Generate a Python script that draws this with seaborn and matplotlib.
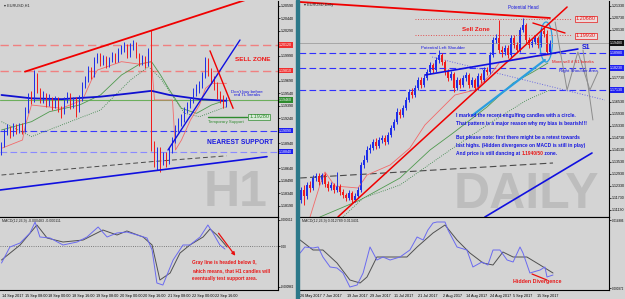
import numpy as np
import matplotlib.pyplot as plt
import seaborn as sns
from matplotlib.patches import Ellipse, Rectangle

BG = "#d4d4d4"
sns.set_theme(style="white", rc={"axes.facecolor": BG, "figure.facecolor": BG})
plt.rcParams["font.family"] = ["Liberation Sans", "DejaVu Sans"]

# ---------------- H1 panel data (EURUSD, 14-22 Sep 2017) ----------------
h1_first_open = 1.1885
h1_close = [1.1892, 1.1908, 1.1912, 1.1906, 1.1914, 1.1909, 1.1915, 1.1910, 1.1934, 1.1950,
            1.1946, 1.1976, 1.1958, 1.1946, 1.1952, 1.1942, 1.1948, 1.1939, 1.1946, 1.1936,
            1.1932, 1.1946, 1.1951, 1.1940, 1.1946, 1.1934, 1.1948, 1.1964, 1.1970, 1.1982,
            1.1976, 1.1994, 1.1999, 1.1992, 1.1996, 1.1989, 1.1994, 1.2000, 1.1994, 1.2004,
            1.2008, 1.2010, 1.2000, 1.2011, 1.2013, 1.2000, 1.1992, 1.1996, 1.1989, 1.2004,
            1.1892, 1.1876, 1.1886, 1.1874, 1.1880, 1.1872, 1.1886, 1.1898, 1.1912, 1.1920,
            1.1924, 1.1934, 1.1940, 1.1946, 1.1956, 1.1960, 1.1964, 1.1976, 1.1994, 1.1980,
            1.1970, 1.1964, 1.1952, 1.1948, 1.1941, 1.1946]
h1_high = [1.1896, 1.1911, 1.1917, 1.1915, 1.1918, 1.1917, 1.1919, 1.1918, 1.1938, 1.1955,
           1.1957, 1.1982, 1.1979, 1.1961, 1.1957, 1.1955, 1.1953, 1.1950, 1.1951, 1.1949,
           1.1939, 1.1950, 1.1956, 1.1954, 1.1950, 1.1949, 1.1952, 1.1968, 1.1975, 1.1987,
           1.1986, 1.1998, 1.2003, 1.2002, 1.2000, 1.1999, 1.1998, 1.2004, 1.2003, 1.2008,
           1.2012, 1.2016, 1.2013, 1.2015, 1.2018, 1.2016, 1.2003, 1.2000, 1.1999, 1.2008,
           1.2030, 1.1897, 1.1890, 1.1889, 1.1884, 1.1884, 1.1890, 1.1902, 1.1916, 1.1924,
           1.1929, 1.1938, 1.1944, 1.1950, 1.1960, 1.1965, 1.1969, 1.1980, 1.1998, 1.1997,
           1.1984, 1.1975, 1.1968, 1.1957, 1.1952, 1.1950]
h1_low = [1.1880, 1.1889, 1.1904, 1.1901, 1.1903, 1.1905, 1.1906, 1.1905, 1.1908, 1.1930,
          1.1941, 1.1944, 1.1954, 1.1942, 1.1943, 1.1938, 1.1939, 1.1934, 1.1936, 1.1931,
          1.1924, 1.1929, 1.1943, 1.1935, 1.1937, 1.1926, 1.1931, 1.1945, 1.1960, 1.1967,
          1.1971, 1.1973, 1.1990, 1.1987, 1.1988, 1.1985, 1.1986, 1.1991, 1.1990, 1.1992,
          1.2001, 1.2004, 1.1996, 1.1998, 1.2006, 1.1996, 1.1987, 1.1988, 1.1985, 1.1987,
          1.1885, 1.1866, 1.1862, 1.1860, 1.1868, 1.1866, 1.1869, 1.1882, 1.1895, 1.1908,
          1.1915, 1.1920, 1.1930, 1.1936, 1.1942, 1.1951, 1.1955, 1.1960, 1.1972, 1.1975,
          1.1965, 1.1958, 1.1947, 1.1943, 1.1937, 1.1938]

# indicator lines on H1 (bar index, price)
h1_ma200_bar = [0, 10, 20, 33, 43, 50, 56, 66, 75]
h1_ma200 = [1.1952, 1.1948, 1.1947, 1.1950, 1.1954, 1.1957, 1.1952, 1.1947, 1.1945]
h1_ma_fast_bar = [0, 10, 16, 26, 33, 40, 46, 50, 53, 56, 60, 65, 70, 75]
h1_ma_fast = [1.1910, 1.1920, 1.1932, 1.1940, 1.1952, 1.1976, 1.1989, 1.1992, 1.1976,
              1.1958, 1.1936, 1.1930, 1.1940, 1.1946]
h1_ma_slow_bar = [0, 10, 20, 33, 43, 49, 53, 61, 66, 75]
h1_ma_slow = [1.1920, 1.1902, 1.1916, 1.1934, 1.1970, 1.1986, 1.1972, 1.1930, 1.1926, 1.1938]
h1_env_bar = [0, 7, 8, 10, 20, 27, 30, 32, 40, 46, 50, 51, 57, 58, 60, 63, 66, 68, 70, 75]
h1_env = [1.1888, 1.1898, 1.1916, 1.1940, 1.1936, 1.1946, 1.1970, 1.1982, 1.1992, 1.1989,
          1.1992, 1.1946, 1.1946, 1.1886, 1.1898, 1.1922, 1.1940, 1.1960, 1.1966, 1.1966]
h1_ma_long_bar = [0, 50, 75]
h1_ma_long = [1.1856, 1.1872, 1.1879]

h1_sell_levels = [1.2012, 1.1981]
h1_sell_labels = ["1.20120", "1.19810"]
h1_support_levels = [1.1909, 1.1884]
h1_support_labels = ["1.19090", "1.18840"]
h1_current = 1.1946
h1_temp_support = 1.1926

h1_yticks = [1.2059, 1.2044, 1.2029, 1.2014, 1.1999, 1.1984, 1.1969, 1.1954, 1.1939,
             1.1924, 1.1909, 1.1894, 1.1879, 1.1864, 1.1849, 1.1834, 1.1819]
h1_date_bar = [0.2, 7.8, 15.5, 23.5, 31.5, 39.5, 47.2, 55.5, 63.5, 71.2]
h1_dates = ["14 Sep 2017", "15 Sep 08:00", "18 Sep 00:00", "18 Sep 16:00", "19 Sep 08:00",
            "20 Sep 00:00", "20 Sep 16:00", "21 Sep 08:00", "22 Sep 00:00", "22 Sep 16:00"]

h1_macd_bar = [0, 2.8, 6.2, 9.5, 11.2, 12.8, 16.2, 20.5, 25.2, 28.5, 32.2, 35.2, 38.5, 41.8,
               45.2, 48.5, 50.2, 51.8, 53.8, 57.2, 60.5, 62.8, 66.2, 68.8, 70.5, 72.8, 74.5]
h1_macd = [-0.000400, -0.000024, 0.000071, 0.000306, 0.000564, 0.000212, 0.000188, 0.000024,
           0.000094, 0.000212, 0.000447, 0.000212, 0.000306, 0.000329, 0.000259, 0.000188,
           -0.000094, -0.000870, -0.000917, -0.000329, 0.000024, 0.000024, 0.000212,
           0.000494, 0.000306, 0.000024, -0.000071]
h1_signal_bar = [0, 6.2, 11.8, 15.2, 20.5, 27.2, 33.8, 38.5, 41.8, 47.2, 50.2, 52.8, 56.2,
                 59.5, 62.8, 67.2, 69.5, 71.8, 75.2]
h1_signal = [-0.000329, 0.000024, 0.000494, 0.000188, 0.000094, 0.000141, 0.000376, 0.000259,
             0.000353, 0.000212, 0.000024, -0.000799, -0.000635, -0.000165, 0.000024,
             0.000212, 0.000400, 0.000259, -0.000024]

# ---------------- Daily panel data (EURUSD, 26 May - 22 Sep 2017) ----------------
d_first_open = 1.1163
d_close = [1.1213, 1.1183, 1.1238, 1.1223, 1.1273, 1.1283, 1.1253, 1.1288, 1.1243, 1.1223,
           1.1238, 1.1213, 1.1233, 1.1203, 1.1188, 1.1173, 1.1198, 1.1163, 1.1183, 1.1213,
           1.1338, 1.1363, 1.1413, 1.1423, 1.1453, 1.1433, 1.1463, 1.1473, 1.1453, 1.1488,
           1.1523, 1.1553, 1.1603, 1.1588, 1.1623, 1.1663, 1.1703, 1.1688, 1.1723, 1.1763,
           1.1738, 1.1773, 1.1803, 1.1838, 1.1813, 1.1863, 1.1888, 1.1853, 1.1803, 1.1773,
           1.1793, 1.1723, 1.1763, 1.1738, 1.1773, 1.1788, 1.1738, 1.1763, 1.1723, 1.1783,
           1.1763, 1.1813, 1.1803, 1.1888, 1.1963, 1.1973, 1.1913, 1.1903, 1.1923, 1.1888,
           1.1973, 1.1938, 1.1913, 1.2013, 1.2038, 1.1963, 1.1938, 1.1953, 1.1973, 1.1938,
           1.2008, 1.1993, 1.1903, 1.1948]
d_high = [1.1228, 1.1238, 1.1253, 1.1258, 1.1288, 1.1298, 1.1296, 1.1298, 1.1296, 1.1258,
          1.1253, 1.1248, 1.1303, 1.1243, 1.1218, 1.1198, 1.1213, 1.1208, 1.1198, 1.1228,
          1.1353, 1.1388, 1.1433, 1.1443, 1.1468, 1.1473, 1.1478, 1.1490, 1.1488, 1.1503,
          1.1538, 1.1568, 1.1623, 1.1618, 1.1638, 1.1678, 1.1718, 1.1723, 1.1738, 1.1778,
          1.1776, 1.1788, 1.1818, 1.1853, 1.1848, 1.1878, 1.1913, 1.1898, 1.1863, 1.1818,
          1.1808, 1.1803, 1.1778, 1.1773, 1.1788, 1.1803, 1.1798, 1.1778, 1.1773, 1.1798,
          1.1798, 1.1828, 1.1828, 1.1903, 1.1978, 1.1993, 1.2063, 1.1933, 1.1938, 1.1938,
          1.1988, 1.1988, 1.1953, 1.2028, 1.2073, 1.2048, 1.1978, 1.1968, 1.1988, 1.1983,
          1.2023, 1.2033, 1.2013, 1.1963]
d_low = [1.1148, 1.1138, 1.1168, 1.1203, 1.1213, 1.1258, 1.1238, 1.1243, 1.1228, 1.1208,
         1.1213, 1.1198, 1.1203, 1.1188, 1.1173, 1.1158, 1.1163, 1.1148, 1.1153, 1.1173,
         1.1203, 1.1323, 1.1353, 1.1398, 1.1413, 1.1418, 1.1423, 1.1448, 1.1438, 1.1443,
         1.1478, 1.1513, 1.1543, 1.1573, 1.1578, 1.1613, 1.1653, 1.1673, 1.1678, 1.1713,
         1.1723, 1.1728, 1.1763, 1.1793, 1.1798, 1.1803, 1.1848, 1.1838, 1.1788, 1.1758,
         1.1763, 1.1703, 1.1713, 1.1723, 1.1728, 1.1758, 1.1723, 1.1728, 1.1708, 1.1713,
         1.1748, 1.1753, 1.1788, 1.1793, 1.1878, 1.1948, 1.1898, 1.1878, 1.1888, 1.1873,
         1.1878, 1.1923, 1.1898, 1.1903, 1.2003, 1.1948, 1.1923, 1.1928, 1.1943, 1.1923,
         1.1928, 1.1978, 1.1893, 1.1893]

d_env_bar = [3, 6.3, 8, 11.3, 19, 22, 29.7, 36.3, 41.3, 46.3, 51.3, 58, 63, 66.3, 73, 83]
d_env = [1.1078, 1.1238, 1.1303, 1.1233, 1.1223, 1.1288, 1.1338, 1.1423, 1.1538, 1.1613,
         1.1688, 1.1713, 1.1788, 1.1853, 1.1873, 1.1888]
d_ma_fast_bar = [6.3, 19.7, 33, 43, 50.7, 62, 70.7, 77.3, 82.3]
d_ma_fast = [1.1078, 1.1163, 1.1273, 1.1413, 1.1498, 1.1628, 1.1748, 1.1803, 1.1848]
d_ma_slow_bar = [14, 20.7, 33, 49.7, 63, 75.3, 83]
d_ma_slow = [1.1078, 1.1173, 1.1238, 1.1413, 1.1548, 1.1663, 1.1713]
d_ma_long_bar = [-0.3, 84]
d_ma_long = [1.1273, 1.1348]

d_current = 1.1948
d_sell_zone = [1.2068, 1.1990]
d_sell_labels = ["1.20680", "1.19930"]
d_levels = [1.1898, 1.1823, 1.1713]
d_level_labels = ["1.18980", "1.18230", "1.17130"]

d_yticks = [1.2133, 1.2073, 1.2013, 1.1953, 1.1893, 1.1833, 1.1773, 1.1713, 1.1653,
            1.1593, 1.1533, 1.1473, 1.1413, 1.1353, 1.1293, 1.1233, 1.1173, 1.1113]
d_date_bar = [-0.3, 7.3, 15.3, 23, 31, 39, 47.3, 55, 63, 70.7, 78.7]
d_dates = ["26 May 2017", "7 Jun 2017", "19 Jun 2017", "29 Jun 2017", "11 Jul 2017",
           "21 Jul 2017", "2 Aug 2017", "14 Aug 2017", "24 Aug 2017", "5 Sep 2017", "15 Sep 2017"]

d_macd_bar = [-0.3, 1.3, 4, 5.7, 7.3, 9.7, 12, 14, 16.3, 18.7, 20.7, 23, 25.3, 27.3, 29.7, 33,
              36.3, 38.7, 40.7, 42.3, 44, 45.3, 47, 48, 49, 52, 55.3, 57.3, 60.3, 62.3, 64,
              66.3, 68.7, 70.7, 73, 74, 76.3, 79.7, 81.3, 82, 84]
d_macd = [0.008088, 0.009324, 0.009118, 0.009324, 0.007264, 0.005204, 0.004998, 0.003968,
          0.001084, 0.001496, 0.003968, 0.009324, 0.006646, 0.007264, 0.006646, 0.007264,
          0.008706, 0.011384, 0.010766, 0.012826, 0.014268, 0.014474, 0.014474, 0.014474,
          0.012826, 0.009324, 0.008706, 0.005204, 0.006234, 0.005616, 0.008706, 0.008706,
          0.006646, 0.006234, 0.009324, 0.008088, 0.003968, 0.004586, 0.005204, 0.003144,
          0.003556]
d_signal_bar = [-0.3, 4, 7.3, 12, 16.3, 19.7, 22, 25.3, 29.7, 35.3, 38.7, 44, 48, 52, 56.3,
                60.7, 64, 67.3, 70.7, 75.3, 79.7, 84]
d_signal = [0.010766, 0.008706, 0.008706, 0.006028, 0.002526, 0.001908, 0.003144, 0.007264,
            0.007264, 0.007264, 0.009324, 0.012208, 0.013856, 0.010766, 0.008088, 0.006028,
            0.005616, 0.008294, 0.007264, 0.007264, 0.005616, 0.003968]

BULL = "#1f2fe8"
BEAR = "#f01c1c"


def draw_candles(ax, first_open, closes, highs, lows):
    opens = [first_open] + closes[:-1]
    for b, (o, c, h, l) in enumerate(zip(opens, closes, highs, lows)):
        col = BULL if c >= o else BEAR
        ax.vlines(b, l, h, color=col, lw=0.7)
        ax.bar(b, max(abs(c - o), 0.00004), bottom=min(o, c), width=0.62, color=col, linewidth=0)


def style_axes(ax, macd=False):
    for s in ["left", "top"]:
        ax.spines[s].set_visible(False)
    if macd:
        ax.spines["top"].set_visible(True)
    for s in ax.spines.values():
        s.set_color("black")
        s.set_linewidth(0.8)
    ax.yaxis.tick_right()
    ax.tick_params(axis="y", length=1.5, width=0.5, labelsize=2.2 if macd else 2.6,
                   pad=0.6, colors="black")
    ax.tick_params(axis="x", length=2, width=0.5, labelsize=2.7, pad=1, colors="black")
    ax.grid(False)


def axis_box(ax, price, text, fc, tc="white", ec="none"):
    ax.text(1.004, price, text, transform=ax.get_yaxis_transform(), fontsize=2.6, color=tc,
            va="center", ha="left", clip_on=False,
            bbox=dict(facecolor=fc, edgecolor=ec, pad=0.4, linewidth=0.4))


def free_ticks(ticks, boxed, gap):
    # drop scale ticks that would sit under a highlighted price box
    return [t for t in ticks if min(abs(t - b) for b in boxed) > gap]


W, H = 625, 299
fig = plt.figure(figsize=(6.25, 2.99), dpi=100)


def px_axes(x0, y0, x1, y1):
    return fig.add_axes([x0 / W, 1 - y1 / H, (x1 - x0) / W, (y1 - y0) / H])


ax_h1 = px_axes(0, 1, 278, 217)
ax_h1m = px_axes(0, 217, 278, 290)
ax_d = px_axes(299, 1, 609, 217)
ax_dm = px_axes(299, 217, 609, 290)
fig.patches.append(Rectangle((296 / W, 0), 2.5 / W, 1, transform=fig.transFigure,
                             color="#2c7889", zorder=5))

# ================= H1 price =================
ax = ax_h1
style_axes(ax)
ax.set_xlim(-0.5, 92.17)
ax.set_ylim(1.18056, 1.20648)
ax.text(0.849, 0.111, "H1", transform=ax.transAxes, fontsize=36, fontweight="bold",
        color="#bdbdbd", ha="center", va="center", zorder=0)
for lvl in h1_sell_levels:
    ax.axhline(lvl, color="#f08080", ls=(0, (6, 3)), lw=1.0)
ax.axhline(h1_support_levels[0], color="#3a3aff", ls=(0, (6, 3)), lw=0.8)
ax.axhline(h1_support_levels[1], color="#8a8aff", ls=(0, (6, 3)), lw=0.8)
ax.axhline(h1_current, color="#6cae5c", lw=0.8)
sns.lineplot(x=h1_ma_long_bar, y=h1_ma_long, ax=ax, color="#4a4a4a", lw=0.7,
             linestyle=(0, (5, 3)), estimator=None, sort=False)
sns.lineplot(x=h1_ma_slow_bar, y=h1_ma_slow, ax=ax, color="#2f7f3f", lw=0.6,
             linestyle=":", estimator=None, sort=False)
sns.lineplot(x=h1_ma_fast_bar, y=h1_ma_fast, ax=ax, color="#4f9a4f", lw=0.6,
             estimator=None, sort=False)
sns.lineplot(x=h1_env_bar, y=h1_env, ax=ax, color="#f26a6a", lw=0.6,
             estimator=None, sort=False)
sns.lineplot(x=h1_ma200_bar, y=h1_ma200, ax=ax, color="#1010d0", lw=1.3,
             estimator=None, sort=False)
draw_candles(ax, h1_first_open, h1_close, h1_high, h1_low)
# drawn trend lines
ax.plot([7.8, 83], [1.1980, 1.2068], color="#f00000", lw=1.3)
ax.plot([-0.5, 88.5], [1.1838, 1.1878], color="#1010e0", lw=1.2)
ax.plot([55.5, 79.5], [1.1886, 1.2018], color="#1010e0", lw=1.0)
ax.plot([69.5, 77.2], [1.2005, 1.1936], color="#f00000", lw=1.0)
ax.plot([69, 82], [h1_temp_support] * 2, color="#2e8b2e", lw=1.0)
ax.set_xticks([])
h1_boxed = h1_sell_levels + h1_support_levels + [h1_current]
h1_ticks_shown = free_ticks(h1_yticks, h1_boxed, 0.0005)
ax.set_yticks(h1_ticks_shown)
ax.set_yticklabels([f"{v:.5f}" for v in h1_ticks_shown])
for lvl, lab in zip(h1_sell_levels, h1_sell_labels):
    axis_box(ax, lvl, lab, "#f03030")
for lvl, lab in zip(h1_support_levels, h1_support_labels):
    axis_box(ax, lvl, lab, "#2020f0")
axis_box(ax, h1_current, f"{h1_current:.5f}", "#2e8b2e")
ax.text(0.014, 0.99, "\u25be EURUSD,H1", transform=ax.transAxes, fontsize=2.8, va="top")
ax.text(0.845, 0.731, "SELL ZONE", transform=ax.transAxes, fontsize=4.6, fontweight="bold",
        color="#f01818", va="center")
ax.text(0.888, 0.572, "Don't buy before\nred TL breaks", transform=ax.transAxes, fontsize=3.2,
        color="#1818e0", ha="center", va="center", linespacing=0.95)
ax.text(0.932, 0.463, "1.19280", transform=ax.transAxes, fontsize=4, color="#2e8b2e",
        ha="center", va="center",
        bbox=dict(facecolor="#d8ead8", edgecolor="#2e8b2e", pad=0.6, linewidth=0.5))
ax.text(0.813, 0.440, "Temporary Support", transform=ax.transAxes, fontsize=3.1,
        color="#2e8b2e", ha="center", va="center")
ax.text(0.862, 0.347, "NEAREST SUPPORT", transform=ax.transAxes, fontsize=4.8,
        fontweight="bold", color="#1818e0", ha="center", va="center")

# ================= H1 MACD =================
ax = ax_h1m
style_axes(ax, macd=True)
ax.set_xlim(-0.5, 92.17)
ax.set_ylim(-0.001034, 0.000682)
ax.axhline(0, color="#606060", ls=":", lw=0.6)
sns.lineplot(x=h1_signal_bar, y=h1_signal, ax=ax, color="#505050", lw=0.7,
             estimator=None, sort=False)
sns.lineplot(x=h1_macd_bar, y=h1_macd, ax=ax, color="#6a6af0", lw=0.7,
             estimator=None, sort=False)
ax.set_yticks([0.000612, 0.0, -0.000962])
ax.set_yticklabels(["0.000612", "0.00", "-0.000962"])
ax.set_xticks(h1_date_bar)
ax.set_xticklabels(h1_dates)
plt.setp(ax.get_xticklabels(), ha="left")
ax.text(0.007, 0.945, "MACD(12,26,9) -0.000483 -0.000111", transform=ax.transAxes,
        fontsize=2.6, va="center")
ax.annotate("", xy=(78.5, -0.000282), xytext=(71.8, 0.000353),
            arrowprops=dict(arrowstyle="-|>", color="#e81010", lw=0.9, mutation_scale=5))
for fy, line in zip([0.37, 0.26, 0.155], ["Gray line is headed below 0,",
                                          "which means, that H1 candles will",
                                          "eventually test support area."]):
    ax.text(0.69, fy, line, transform=ax.transAxes, fontsize=3.4, fontweight="bold",
            color="#e81818", va="center")

# ================= Daily price =================
ax = ax_d
style_axes(ax)
ax.set_xlim(-0.67, 102.67)
ax.set_ylim(1.1078, 1.2158)
ax.text(0.735, 0.102, "DAILY", transform=ax.transAxes, fontsize=36, fontweight="bold",
        color="#bdbdbd", ha="center", va="center", zorder=0)
ax.axhline(d_current, color="#a6a6a6", lw=0.7)
for lvl in d_levels:
    ax.axhline(lvl, color="#3030ff", ls=(0, (6, 3)), lw=0.8)
for lvl in d_sell_zone:
    ax.plot([38, 90], [lvl, lvl], color="#e05050", ls=":", lw=0.7)
sns.lineplot(x=d_ma_long_bar, y=d_ma_long, ax=ax, color="#4a4a4a", lw=0.8,
             linestyle=(0, (6, 3)), estimator=None, sort=False)
sns.lineplot(x=d_ma_slow_bar, y=d_ma_slow, ax=ax, color="#2f7f3f", lw=0.6,
             linestyle=":", estimator=None, sort=False)
sns.lineplot(x=d_ma_fast_bar, y=d_ma_fast, ax=ax, color="#4f9a4f", lw=0.6,
             estimator=None, sort=False)
sns.lineplot(x=d_env_bar, y=d_env, ax=ax, color="#f26a6a", lw=0.6,
             estimator=None, sort=False)
ax.plot([43.7, 101.3], [1.1878, 1.1663], color="#6a6ae0", ls=":", lw=0.7)
draw_candles(ax, d_first_open, d_close, d_high, d_low)
ax.plot([-0.3, 83], [1.2153, 1.2073], color="#f00000", lw=1.3)
ax.plot([77.3, 88], [1.2048, 1.1998], color="#f00000", lw=1.0)
ax.plot([12.3, 88.7], [1.1078, 1.2128], color="#f00000", lw=1.1)
ax.plot([41.3, 92.3], [1.1788, 1.1918], color="#1010e0", lw=1.2)
ax.plot([57.3, 81.3], [1.1588, 1.1863], color="#2a9ee0", lw=1.6)
ax.plot([61.3, 97], [1.1078, 1.1398], color="#1010e0", lw=1.2)
ax.plot([84.7, 88.7, 92.3, 96.3, 99], [1.2053, 1.1713, 1.1903, 1.1713, 1.1803],
        color="#8c8c8c", lw=0.7)
ax.plot([94, 97.3], [1.1913, 1.1563], color="#8c8c8c", lw=0.7)
ax.add_patch(Ellipse((81.7, 1.1953), width=4.2, height=0.020, fill=False,
                     edgecolor="#2a9ee0", lw=0.9))
ax.set_xticks([])
d_boxed = d_levels + [d_current]
d_ticks_shown = free_ticks(d_yticks, d_boxed, 0.0022)
ax.set_yticks(d_ticks_shown)
ax.set_yticklabels([f"{v:.5f}" for v in d_ticks_shown])
axis_box(ax, d_current, f"{d_current:.5f}", "#101010")
for lvl, lab in zip(d_levels, d_level_labels):
    axis_box(ax, lvl, lab, "#2020f0")
ax.text(0.016, 0.99, "\u25be EURUSD,Daily", transform=ax.transAxes, fontsize=2.8, va="top")
ax.text(0.723, 0.968, "Potential Head", transform=ax.transAxes, fontsize=3.3,
        color="#1818e0", ha="center", va="center")
ax.text(0.571, 0.870, "Sell Zone", transform=ax.transAxes, fontsize=4.5, fontweight="bold",
        color="#f01818", ha="center", va="center")
for fy, lab in zip([0.917, 0.838], d_sell_labels):
    ax.text(0.926, fy, lab, transform=ax.transAxes, fontsize=4, color="#e81818",
            ha="center", va="center",
            bbox=dict(facecolor="#ecdcdc", edgecolor="#e81818", pad=0.6, linewidth=0.5))
ax.text(0.465, 0.782, "Potential Left Shoulder", transform=ax.transAxes, fontsize=3.2,
        color="#1818e0", ha="center", va="center")
ax.text(0.913, 0.785, "S1", transform=ax.transAxes, fontsize=5, fontweight="bold",
        color="#1818e0", ha="left", va="center")
ax.text(0.884, 0.718, "More sell if S1 breaks", transform=ax.transAxes, fontsize=3.2,
        color="#e81818", ha="center", va="center")
ax.text(0.90, 0.676, "Right Shoulder Area", transform=ax.transAxes, fontsize=3.2,
        color="#1818e0", ha="center", va="center")
block = ["I marked the recent engulfing candles with a circle.",
         "That pattern is a major reason why my bias is bearish!!!",
         "But please note: first there might be a retest towards",
         "last highs. (Hidden divergence on MACD is still in play)"]
for fy, line in zip([0.472, 0.431, 0.366, 0.329], block):
    ax.text(0.506, fy, line, transform=ax.transAxes, fontsize=3.5, fontweight="bold",
            color="#1818e0", va="center")
t1 = ax.text(0.506, 0.296, "And price is still dancing at ", transform=ax.transAxes,
             fontsize=3.5, fontweight="bold", color="#1818e0", va="center")
t2 = ax.annotate("1.1940/50", xy=(1, 0), xycoords=t1, va="bottom", fontsize=3.5,
                 fontweight="bold", color="#e81818")
ax.annotate(" zone.", xy=(1, 0), xycoords=t2, va="bottom", fontsize=3.5,
            fontweight="bold", color="#1818e0")

# ================= Daily MACD =================
ax = ax_dm
style_axes(ax, macd=True)
ax.set_xlim(-0.67, 102.67)
ax.set_ylim(0.000466, 0.015504)
sns.lineplot(x=d_signal_bar, y=d_signal, ax=ax, color="#505050", lw=0.7,
             estimator=None, sort=False)
sns.lineplot(x=d_macd_bar, y=d_macd, ax=ax, color="#6a6af0", lw=0.7,
             estimator=None, sort=False)
ax.plot([77, 82], [0.003762, 0.002526], color="#e81010", lw=0.9)
ax.set_yticks([0.014886, 0.000872])
ax.set_yticklabels(["0.014886", "0.000872"])
ax.set_xticks(d_date_bar)
ax.set_xticklabels(d_dates)
plt.setp(ax.get_xticklabels(), ha="left")
ax.text(0.01, 0.945, "MACD(12,26,9) 0.012789 0.013431", transform=ax.transAxes,
        fontsize=2.6, va="center")
ax.text(0.768, 0.11, "Hidden Divergence", transform=ax.transAxes, fontsize=3.8,
        fontweight="bold", color="#e81818", ha="center", va="center")

for a in [ax_h1, ax_h1m, ax_d, ax_dm]:
    leg = a.get_legend()
    if leg:
        leg.remove()

fig.savefig("out.png", dpi=100, facecolor=BG)
